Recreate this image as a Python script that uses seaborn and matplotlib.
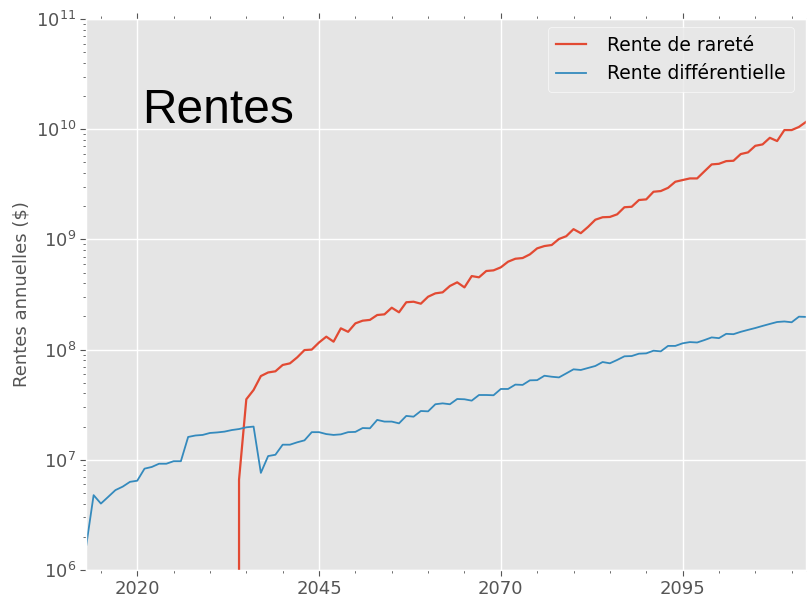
import numpy as np
import pandas as pd
import matplotlib
matplotlib.use('Agg')
import matplotlib.pyplot as plt
from matplotlib.ticker import MultipleLocator, FixedLocator, LogLocator
import seaborn as sns

# données (années 2013-2112)
annees = list(range(2013, 2113))

rente_differentielle = [
    1.69e6, 4.77e6, 4.0e6, 4.6e6, 5.3e6, 5.7e6, 6.3e6, 6.45e6, 8.3e6, 8.6e6,
    9.2e6, 9.2e6, 9.7e6, 9.7e6, 1.61e7, 1.66e7, 1.68e7, 1.75e7, 1.77e7, 1.80e7,
    1.86e7, 1.90e7, 1.97e7, 2.00e7, 7.6e6, 1.08e7, 1.11e7, 1.37e7, 1.37e7, 1.44e7,
    1.50e7, 1.78e7, 1.78e7, 1.71e7, 1.68e7, 1.70e7, 1.78e7, 1.79e7, 1.94e7, 1.93e7,
    2.30e7, 2.22e7, 2.22e7, 2.14e7, 2.50e7, 2.46e7, 2.77e7, 2.75e7, 3.19e7, 3.25e7,
    3.19e7, 3.56e7, 3.54e7, 3.44e7, 3.87e7, 3.87e7, 3.85e7, 4.39e7, 4.39e7, 4.81e7,
    4.78e7, 5.26e7, 5.28e7, 5.79e7, 5.67e7, 5.59e7, 6.08e7, 6.62e7, 6.53e7, 6.81e7,
    7.10e7, 7.71e7, 7.51e7, 8.05e7, 8.69e7, 8.74e7, 9.18e7, 9.24e7, 9.77e7, 9.64e7,
    1.08e8, 1.08e8, 1.14e8, 1.17e8, 1.16e8, 1.22e8, 1.29e8, 1.27e8, 1.39e8, 1.38e8,
    1.45e8, 1.51e8, 1.57e8, 1.64e8, 1.71e8, 1.78e8, 1.80e8, 1.77e8, 1.99e8, 1.98e8,
]

# rente de rareté : nulle avant 2034
annees_rarete = list(range(2033, 2113))
rente_rarete = [
    0.0, 6.6e6, 3.54e7, 4.3e7, 5.75e7, 6.2e7, 6.35e7, 7.25e7, 7.5e7, 8.5e7,
    9.9e7, 1.0e8, 1.16e8, 1.31e8, 1.18e8, 1.56e8, 1.45e8, 1.73e8, 1.83e8, 1.86e8,
    2.06e8, 2.09e8, 2.40e8, 2.18e8, 2.69e8, 2.72e8, 2.61e8, 3.02e8, 3.24e8, 3.31e8,
    3.78e8, 4.08e8, 3.67e8, 4.65e8, 4.53e8, 5.17e8, 5.24e8, 5.58e8, 6.28e8, 6.68e8,
    6.78e8, 7.32e8, 8.30e8, 8.71e8, 8.90e8, 1.01e9, 1.07e9, 1.24e9, 1.14e9, 1.30e9,
    1.51e9, 1.59e9, 1.60e9, 1.69e9, 1.96e9, 1.98e9, 2.28e9, 2.31e9, 2.71e9, 2.75e9,
    2.94e9, 3.34e9, 3.46e9, 3.58e9, 3.58e9, 4.15e9, 4.80e9, 4.86e9, 5.14e9, 5.18e9,
    5.96e9, 6.17e9, 7.08e9, 7.29e9, 8.37e9, 7.82e9, 9.84e9, 9.84e9, 1.05e10, 1.17e10,
]

df_rarete = pd.DataFrame({'annee': annees_rarete, 'rente': rente_rarete})
df_diff = pd.DataFrame({'annee': annees, 'rente': rente_differentielle})

plt.style.use('ggplot')
plt.rcParams['font.family'] = ['DejaVu Sans']

fig = plt.figure(figsize=(8.07, 5.98), dpi=100)
ax = fig.add_axes([0.107, 0.047, 0.892, 0.921])

sns.lineplot(x='annee', y='rente', data=df_rarete, color='#E24A33', linewidth=1.6,
             estimator=None, label='Rente de rareté', ax=ax)
sns.lineplot(x='annee', y='rente', data=df_diff, color='#348ABD', linewidth=1.3,
             estimator=None, label='Rente différentielle', ax=ax)

ax.set_yscale('log', nonpositive='clip')
ax.set_ylim(1e6, 1e11)
ax.set_xlim(2013, 2112)

ax.xaxis.set_major_locator(FixedLocator([2020, 2045, 2070, 2095]))
ax.xaxis.set_minor_locator(MultipleLocator(5))
ax.yaxis.set_major_locator(LogLocator(base=10))
ax.yaxis.set_minor_locator(LogLocator(base=10, subs=np.arange(2, 10)))

ax.grid(True, which='major', color='white', linewidth=1)
ax.grid(False, which='minor')
ax.tick_params(which='both', direction='out', top=True, right=True,
               colors='#555555', labelsize=13)
ax.tick_params(which='major', length=4)
ax.tick_params(which='minor', length=2)

ax.set_xlabel('')
ax.set_ylabel('Rentes annuelles ($)', fontsize=13, color='#555555')

ax.text(0.078, 0.812, 'Rentes', transform=ax.transAxes, fontsize=34.5,
        family=['Liberation Sans', 'DejaVu Sans'], color='black')

leg = ax.legend(loc='upper right', fontsize=13.5, handlelength=1.6,
                handletextpad=1.1, borderpad=0.45,
                bbox_to_anchor=(0.983, 0.985), borderaxespad=0, frameon=True)
leg.get_frame().set_facecolor('#E8E8E8')
leg.get_frame().set_edgecolor('white')
for t in leg.get_texts():
    t.set_color('black')

fig.savefig('out.png', dpi=100)
